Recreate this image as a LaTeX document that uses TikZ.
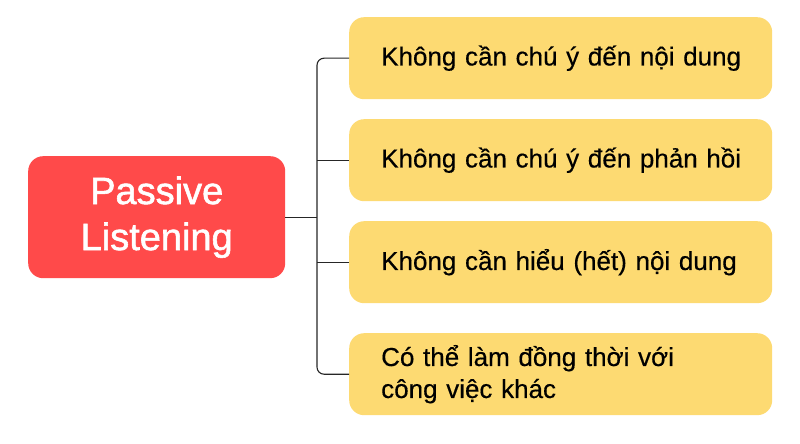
\documentclass[tikz,border=0pt]{standalone}
\usepackage{fontspec}
\setmainfont{Liberation Sans}
\newfontfamily\medfont{Liberation Sans}[FakeBold=1.5]
\newfontfamily\txtfont{Liberation Sans}[FakeBold=0.4]
\begin{document}
\begin{tikzpicture}[x=1pt,y=-1pt,
  box/.style={fill=boxyellow, rounded corners=15pt, anchor=north west, minimum height=82pt,
    text width=423pt, inner xsep=0pt, font=\txtfont\fontsize{26}{32}\selectfont, text=black,
    execute at begin node={\leftskip=32pt\rightskip=0pt plus 1fil\parindent=0pt}},
  root/.style={fill=rootred, rounded corners=15pt, anchor=north west, minimum width=257pt,
    minimum height=122pt, align=center, text=white, font=\medfont\fontsize{38}{46}\selectfont},
  conn/.style={draw=black!85, line width=1.1pt}]
\definecolor{boxyellow}{HTML}{FDDA72}
\definecolor{rootred}{HTML}{FF4A4A}
\useasboundingbox (0,0) rectangle (800,444);
\node[root] (r) at (28,156) {Passive\\Listening};
\node[box] (b1) at (349,17) {Không cần chú ý đến nội dung};
\node[box] (b2) at (349,119) {Không cần chú ý đến phản hồi};
\node[box] (b3) at (349,221) {Không cần hiểu (hết) nội dung};
\node[box] (b4) at (349,333) {Có thể làm đồng thời với\\công việc khác};
\coordinate (sp) at (317,216);
\draw[conn] (r.east) -- (sp |- r.east);
\draw[conn, rounded corners=7pt] (b1.west) -- (sp |- b1.west) -- (sp |- b4.west) -- (b4.west);
\draw[conn] (b2.west) -- (sp |- b2.west);
\draw[conn] (b3.west) -- (sp |- b3.west);
\end{tikzpicture}
\end{document}
